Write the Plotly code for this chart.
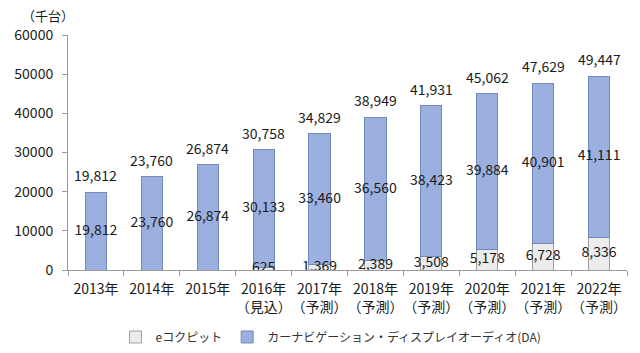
import plotly.graph_objects as go

categories = ["2013年", "2014年", "2015年", "2016年<br>（見込）", "2017年<br>（予測）",
              "2018年<br>（予測）", "2019年<br>（予測）", "2020年<br>（予測）",
              "2021年<br>（予測）", "2022年<br>（予測）"]
ecockpit = [0, 0, 0, 625, 1369, 2389, 3508, 5178, 6728, 8336]
da = [19812, 23760, 26874, 30133, 33460, 36560, 38423, 39884, 40901, 41111]
totals = [19812, 23760, 26874, 30758, 34829, 38949, 41931, 45062, 47629, 49447]

font_family = "Noto Sans CJK JP, Noto Sans, sans-serif"
txt_color = "#1a1a1a"

fig = go.Figure()
fig.add_trace(go.Bar(
    x=categories, y=ecockpit, name="eコクピット",
    marker=dict(color="#ECECEC", line=dict(color="#A0A0A0", width=1)),
    hoverinfo="skip",
))
fig.add_trace(go.Bar(
    x=categories, y=da, name="カーナビゲーション・ディスプレイオーディオ(DA)",
    marker=dict(color="#9BB0DE", line=dict(color="#7389BC", width=1)),
    hoverinfo="skip",
))

# inner labels (segment midpoints)
e_idx = [i for i, v in enumerate(ecockpit) if v > 0]
fig.add_trace(go.Scatter(
    x=[categories[i] for i in e_idx],
    y=[ecockpit[i] / 2 for i in e_idx],
    text=[f"{ecockpit[i]:,}" for i in e_idx],
    mode="text", textposition="middle center",
    textfont=dict(size=14, color=txt_color, family=font_family),
    showlegend=False, hoverinfo="skip",
))
fig.add_trace(go.Scatter(
    x=categories,
    y=[e + d / 2 for e, d in zip(ecockpit, da)],
    text=[f"{v:,}" for v in da],
    mode="text", textposition="middle center",
    textfont=dict(size=14, color=txt_color, family=font_family),
    showlegend=False, hoverinfo="skip",
))

annotations = [dict(x=c, y=t, text=f"{t:,}", xref="x", yref="y", showarrow=False,
                    yanchor="middle", yshift=17,
                    font=dict(size=14, color=txt_color, family=font_family))
               for c, t in zip(categories, totals)]
annotations.append(dict(text="（千台）", xref="paper", yref="paper", x=-0.085, y=1.035,
                        xanchor="left", yanchor="bottom", showarrow=False,
                        font=dict(size=13, color=txt_color)))

fig.update_layout(
    width=640, height=353,
    margin=dict(l=68, r=13, t=35, b=83, autoexpand=False),
    barmode="stack", bargap=0.62,
    plot_bgcolor="white", paper_bgcolor="white",
    font=dict(family=font_family, size=13, color=txt_color),
    legend=dict(orientation="h", x=0.085, xanchor="left", y=-0.285, yanchor="middle",
                font=dict(size=12, color="#333333"), itemwidth=30, traceorder="normal"),
    annotations=annotations,
)
fig.update_xaxes(
    showline=True, linecolor="#9A9A9A", linewidth=1,
    ticks="outside", tickson="boundaries", ticklen=5, tickcolor="#9A9A9A",
    tickangle=0, automargin=False, ticklabelstandoff=6,
    tickfont=dict(size=14, color=txt_color), showgrid=False,
)
fig.update_yaxes(
    range=[0, 60000], tickvals=[0, 10000, 20000, 30000, 40000, 50000, 60000],
    tickformat="d", automargin=False, ticklabelstandoff=6,
    showline=True, linecolor="#9A9A9A", linewidth=1,
    ticks="outside", ticklen=5, tickcolor="#9A9A9A",
    showgrid=False, zeroline=False,
    tickfont=dict(size=14, color=txt_color),
)

fig.write_html("out.html")
